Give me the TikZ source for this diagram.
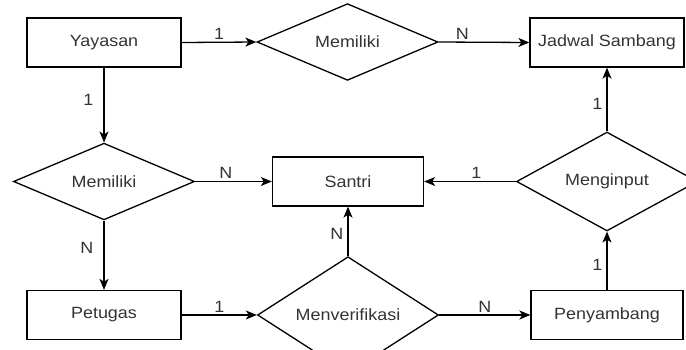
\documentclass[tikz,border=0pt]{standalone}
\usepackage{fontspec}
\setmainfont{Liberation Sans}[FakeStretch=1.1]
\usetikzlibrary{shapes,arrows.meta}
\tikzset{>={Stealth[length=11pt,width=9pt,inset=3pt]}}
\tikzset{entitas/.style={draw,line width=1.3pt,minimum width=154pt,minimum height=49pt,inner sep=0pt,text=black!80},
         relasi/.style={draw,diamond,line width=1.3pt,minimum width=181pt,minimum height=72pt,inner sep=0pt,text=black!80},
         kard/.style={text=black!80,inner sep=2pt},
         garis/.style={->,line width=1.3pt}}

\begin{document}
\begin{tikzpicture}[x=1pt,y=-1pt,font=\fontsize{16.3pt}{19pt}\selectfont]
        \useasboundingbox (0,0) rectangle (686,349);

        % entitas dan relasi
        \node[entitas] (yayasan) at (104,42.5) {Yayasan};
        \node[relasi,minimum height=60pt] (memiliki1) at (347.5,42) {Memiliki};
        \node[entitas] (jadwal) at (607,42.5) {Jadwal Sambang};
        \node[relasi] (memiliki2) at (104,181.5) {Memiliki};
        \node[entitas,minimum width=151pt] (santri) at (348,181.5) {Santri};
        \node[relasi] (menginput) at (607,181.5) {Menginput};
        \node[entitas] (petugas) at (104,315) {Petugas};
        \node[relasi,minimum height=74pt] (verifikasi) at (348,315) {Menverifikasi};
        \node[entitas,minimum width=152pt] (penyambang) at (607,315) {Penyambang};

        % garis penghubung
	\draw[garis] (yayasan.east) -- node[kard,above]{1} (memiliki1.west);
        \draw[garis] (memiliki1.east) -- node[kard,above,pos=.26]{N} (jadwal.west);
        \draw[garis] (yayasan.south) -- node[kard,left=8pt,pos=.43]{1} (memiliki2.north);
        \draw[garis] (memiliki2.east) -- node[kard,above,pos=.4]{N} (santri.west);
        \draw[garis] (memiliki2.south) -- node[kard,left=8pt,pos=.4]{N} (petugas.north);
        \draw[garis] (petugas.east) -- node[kard,above]{1} (verifikasi.west);
        \draw[garis] (verifikasi.north) -- node[kard,left=2pt,pos=.45]{N} (santri.south);
        \draw[garis] (verifikasi.east) -- node[kard,above]{N} (penyambang.west);
        \draw[garis] (penyambang.north) -- node[kard,left=2pt,pos=.43]{1} (menginput.south);
        \draw[garis] (menginput.west) -- node[kard,above,pos=.43]{1} (santri.east);
        \draw[garis] (menginput.north) -- node[kard,left=2pt,pos=.43]{1} (jadwal.south);
\end{tikzpicture}
\end{document}
